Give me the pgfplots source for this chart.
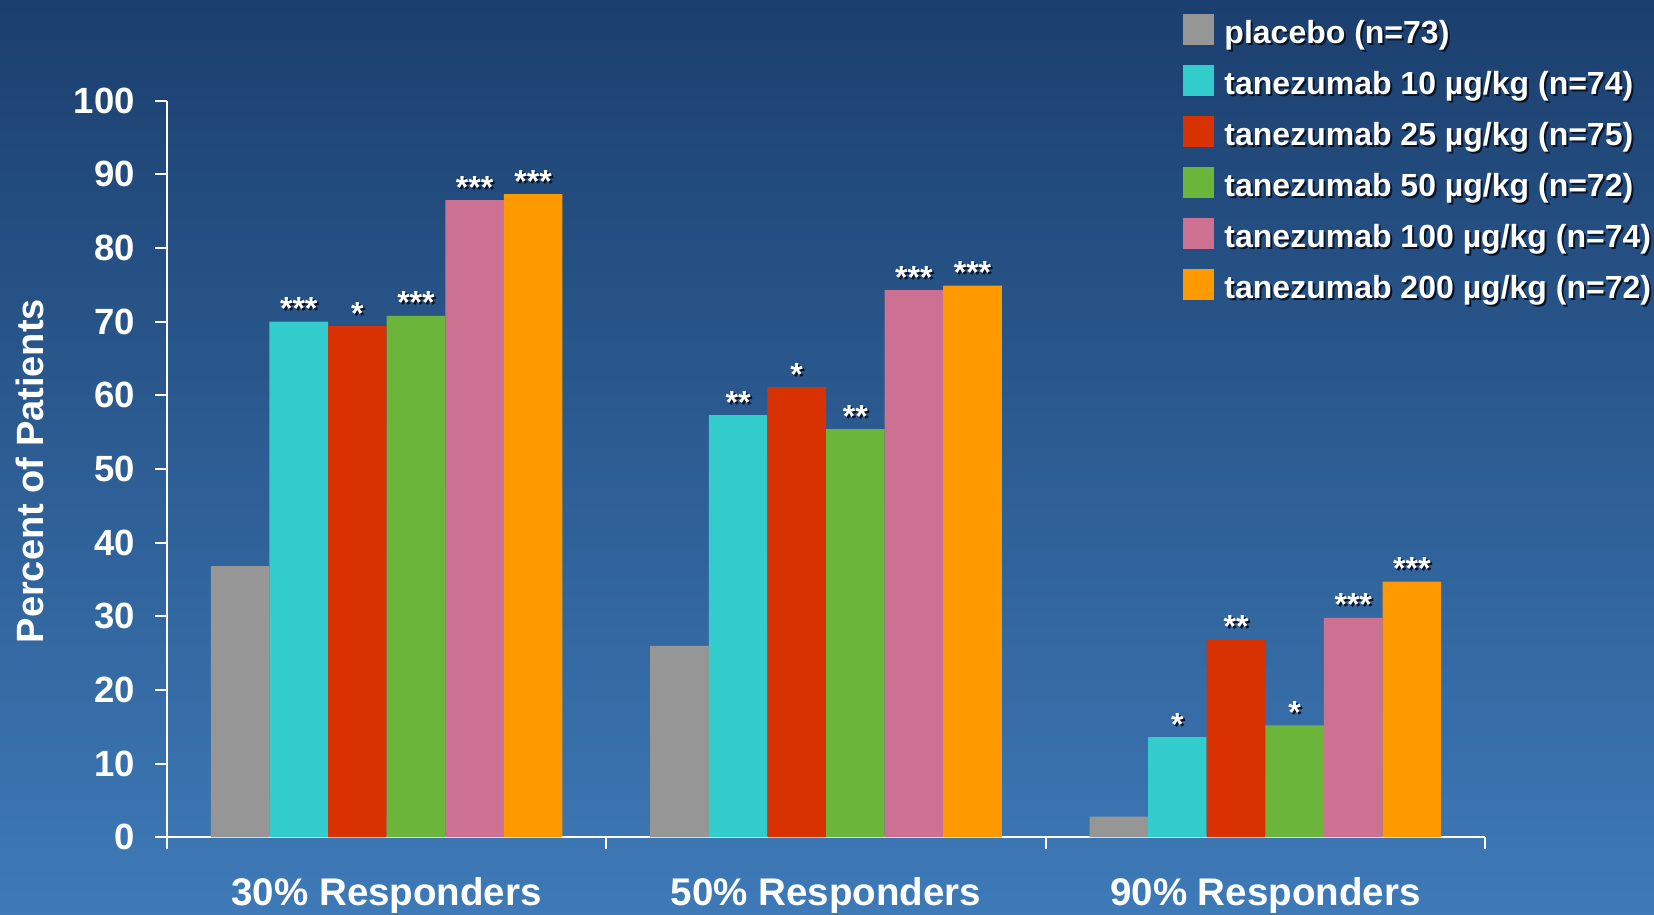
\documentclass[border=0pt]{standalone}
\usepackage{pgfplots}
\usepackage{pgfplotstable}
\pgfplotsset{compat=1.18}
\usepackage{fontspec}
\setmainfont{Liberation Sans}
\definecolor{bgtop}{RGB}{27,63,110}
\definecolor{bgbot}{RGB}{62,122,184}
\definecolor{cgrey}{RGB}{150,150,150}
\definecolor{ccyan}{RGB}{51,204,204}
\definecolor{cred}{RGB}{216,50,3}
\definecolor{cgreen}{RGB}{106,181,58}
\definecolor{cpink}{RGB}{204,113,145}
\definecolor{corange}{RGB}{255,153,0}
\definecolor{shad}{RGB}{10,20,40}
\newcommand\sh[1]{\rlap{\kern2pt\raisebox{-2pt}{\color{shad}#1}}#1}

\pgfplotstableread{
x y
0 36.8
1 26.0
2 2.8
}\tP
\pgfplotstableread{
x y s
0 70.0 ***
1 57.3 **
2 13.6 *
}\tA
\pgfplotstableread{
x y s
0 69.4 *
1 61.1 *
2 26.8 **
}\tB
\pgfplotstableread{
x y s
0 70.8 ***
1 55.4 **
2 15.2 *
}\tC
\pgfplotstableread{
x y s
0 86.5 ***
1 74.3 ***
2 29.8 ***
}\tD
\pgfplotstableread{
x y s
0 87.3 ***
1 74.9 ***
2 34.7 ***
}\tE

\begin{document}
\begin{tikzpicture}
\useasboundingbox (0,0) rectangle (1654pt,914pt);
\shade[top color=bgtop, bottom color=bgbot] (0,0) rectangle (1654pt,914pt);
\begin{axis}[
  at={(167pt,76.7pt)}, anchor=south west,
  scale only axis, width=1318pt, height=736.6pt,
  xmin=-0.5, xmax=2.5, ymin=0, ymax=100,
  axis x line*=bottom, axis y line*=left,
  axis line style={white, line width=1.8pt, -},
  ybar=0pt, bar width=58.6pt,
  xtick={-0.5,0.5,1.5,2.5},
  x tick label as interval,
  xticklabels={30\% Responders,50\% Responders,90\% Responders},
  ytick={0,10,...,100},
  tick align=outside,
  major tick length=12pt,
  tick style={white, line width=1.8pt},
  /pgf/number format/assume math mode=true,
  yticklabel style={font=\fontsize{36.5}{44}\selectfont\bfseries, text=white, anchor=east, inner sep=0pt, xshift=-20pt},
  xticklabel style={font=\fontsize{38.5}{46}\selectfont\bfseries, text=white, anchor=north, inner sep=0pt, yshift=-28pt},
  ylabel={Percent of Patients},
  ylabel style={font=\fontsize{38}{46}\selectfont\bfseries, text=white, at={(axis description cs:-0.1039,0.497)}, anchor=center},
  legend style={at={(axis description cs:0.7707,1.1177)}, anchor=north west, draw=none, fill=none, inner xsep=0pt, inner ysep=0pt, row sep=13.5pt, font=\fontsize{32}{38}\selectfont\bfseries, text=white, nodes={inner sep=0pt, text height=23pt, text depth=8pt}},
  legend cell align=left,
  legend image code/.code={\fill[#1] (0pt,-9pt) rectangle (31pt,22pt); \path (41.5pt,0pt);},
  every axis plot/.append style={draw=none},
  nodes near coords style={font=\fontsize{32}{38}\selectfont\bfseries, text=white, anchor=base, inner sep=0pt, yshift=2pt},
]
\addplot[fill=cgrey] table[x=x,y=y]{\tP};
\addlegendentry{\sh{placebo (n=73)}}
\addplot[fill=ccyan, point meta=explicit symbolic, nodes near coords={\sh{\pgfplotspointmeta}}] table[x=x,y=y,meta=s]{\tA};
\addlegendentry{\sh{tanezumab 10 µg/kg (n=74)}}
\addplot[fill=cred, point meta=explicit symbolic, nodes near coords={\sh{\pgfplotspointmeta}}] table[x=x,y=y,meta=s]{\tB};
\addlegendentry{\sh{tanezumab 25 µg/kg (n=75)}}
\addplot[fill=cgreen, point meta=explicit symbolic, nodes near coords={\sh{\pgfplotspointmeta}}] table[x=x,y=y,meta=s]{\tC};
\addlegendentry{\sh{tanezumab 50 µg/kg (n=72)}}
\addplot[fill=cpink, point meta=explicit symbolic, nodes near coords={\sh{\pgfplotspointmeta}}] table[x=x,y=y,meta=s]{\tD};
\addlegendentry{\sh{tanezumab 100 µg/kg (n=74)}}
\addplot[fill=corange, point meta=explicit symbolic, nodes near coords={\sh{\pgfplotspointmeta}}] table[x=x,y=y,meta=s]{\tE};
\addlegendentry{\sh{tanezumab 200 µg/kg (n=72)}}
\end{axis}
\end{tikzpicture}
\end{document}
